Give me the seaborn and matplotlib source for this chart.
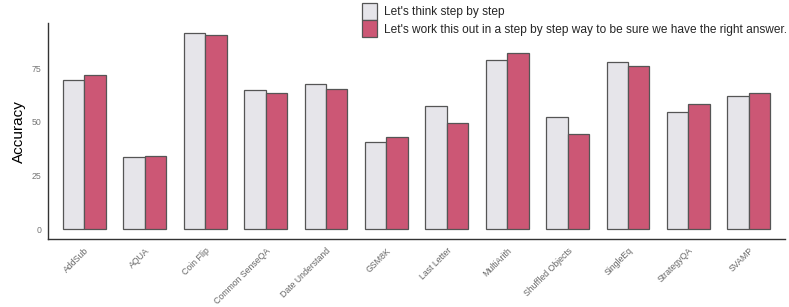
import pandas as pd
import matplotlib.pyplot as plt
import seaborn as sns

tasks = ["AddSub", "AQUA", "Coin Flip", "Common SenseQA", "Date Understand", "GSM8K",
         "Last Letter", "MultiArith", "Shuffled Objects", "SingleEq", "StrategyQA", "SVAMP"]
think = [69.5, 33.5, 91.4, 64.6, 67.4, 40.7, 57.6, 78.6, 52.3, 77.9, 54.6, 62.1]
work = [71.9, 34.1, 90.5, 63.2, 65.1, 43.0, 49.5, 82.0, 44.4, 76.2, 58.5, 63.2]

lab1 = "Let's think step by step"
lab2 = "Let's work this out in a step by step way to be sure we have the right answer."

df = pd.DataFrame({"task": tasks * 2,
                   "acc": think + work,
                   "prompt": [lab1] * len(tasks) + [lab2] * len(tasks)})

sns.set_style("white")
plt.rcParams['font.family'] = ['Liberation Sans', 'DejaVu Sans']

fig = plt.figure(figsize=(7.89, 3.07), dpi=100)
ax = fig.add_axes([0.061, 0.221, 0.934, 0.704])

sns.barplot(data=df, x="task", y="acc", hue="prompt", ax=ax,
            palette=["#E6E5EA", "#CC5775"], width=0.71,
            edgecolor="#555555", linewidth=0.9, saturation=1)

ax.set_xlim(-0.6, 11.6)
ax.set_ylim(-4.6, 96)
ax.set_yticks([0, 25, 50, 75])
ax.set_xlabel("")
ax.set_ylabel("Accuracy", fontsize=11, color="black")
ax.tick_params(axis="both", colors="#777777", labelsize=6.3, length=3, width=0.6, direction="out")
ax.tick_params(axis="y", pad=2)
ax.tick_params(axis="x", pad=2)
plt.setp(ax.get_xticklabels(), rotation=45, ha="right", rotation_mode="anchor", color="#666666")
for s in ["top", "right"]:
    ax.spines[s].set_visible(False)
for s in ["left", "bottom"]:
    ax.spines[s].set_color("#333333")
    ax.spines[s].set_linewidth(1.0)

h, l = ax.get_legend_handles_labels()
ax.get_legend().remove()
fig.legend(h, l, loc="upper left", bbox_to_anchor=(0.459, 0.99), frameon=False,
           fontsize=8.6, handlelength=1.25, handleheight=1.8, handletextpad=0.55,
           labelspacing=0.02, borderaxespad=0, borderpad=0)

fig.savefig("out.png", dpi=100)
